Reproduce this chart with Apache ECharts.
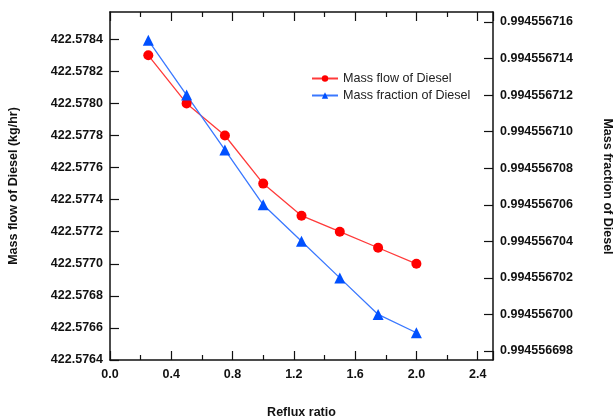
<!DOCTYPE html>
<html><head><meta charset="utf-8">
<script src="https://cdn.jsdelivr.net/npm/echarts@6/dist/echarts.min.js"></script>
<style>html,body{margin:0;padding:0;background:#fff}#c{width:616px;height:419px}</style>
</head><body><div id="c"></div>
<script>
const refluxRatio = [0.25, 0.5, 0.75, 1.0, 1.25, 1.5, 1.75, 2.0];
const massFlow = [422.5783, 422.5780, 422.5778, 422.5775, 422.5773, 422.5772, 422.5771, 422.5770];
const massFraction = [0.994556715, 0.994556712, 0.994556709, 0.994556706, 0.994556704, 0.994556702, 0.994556700, 0.994556699];
const seriesNames = ['Mass flow of Diesel', 'Mass fraction of Diesel'];

const font = 'Liberation Sans, Arial, sans-serif';
const chart = echarts.init(document.getElementById('c'), null, {renderer: 'canvas'});
const axisLineStyle = {color: '#111', width: 1.5};
const tickStyle = {color: '#111', width: 1.2};
const labelStyle = {fontFamily: font, fontWeight: 'bold', fontSize: 12.5, color: '#111'};
chart.setOption({
  animation: false,
  grid: [
    {left: 110, right: 123, top: 12, bottom: 59, containLabel: false, outerBoundsMode: 'none'},
    {left: 110, right: 123, top: 22, bottom: 68, containLabel: false, outerBoundsMode: 'none'}
  ],
  legend: {
    orient: 'vertical', left: 306, top: 67, itemGap: 4, itemWidth: 26, itemHeight: 8,
    textStyle: {fontFamily: font, fontSize: 12.6, color: '#222'},
    data: seriesNames
  },
  xAxis: [{
    gridIndex: 0, type: 'value', min: 0, max: 2.5, interval: 0.4,
    name: 'Reflux ratio', nameLocation: 'middle', nameGap: 46,
    nameTextStyle: Object.assign({}, labelStyle),
    axisLine: {show: true, onZero: false, lineStyle: axisLineStyle},
    axisTick: {show: true, inside: true, length: 9, lineStyle: tickStyle},
    minorTick: {show: true, splitNumber: 2, length: 5, lineStyle: tickStyle},
    axisLabel: Object.assign({}, labelStyle, {margin: 8, showMaxLabel: false, formatter: v => v.toFixed(1)}),
    splitLine: {show: false}
  }, {
    gridIndex: 0, type: 'value', position: 'top', min: 0, max: 2.5, interval: 0.4,
    axisLine: {show: true, onZero: false, lineStyle: axisLineStyle},
    axisTick: {show: true, inside: true, length: 9, lineStyle: tickStyle},
    minorTick: {show: true, splitNumber: 2, length: 5, lineStyle: tickStyle},
    axisLabel: {show: false}, splitLine: {show: false}
  }, {
    gridIndex: 1, type: 'value', min: 0, max: 2.5, show: false
  }],
  yAxis: [{
    gridIndex: 0, type: 'value', position: 'left', min: 422.5764, max: 422.57857, interval: 0.0002,
    name: 'Mass flow of Diesel (kg/hr)', nameLocation: 'middle', nameGap: 90, nameRotate: 90,
    nameTextStyle: Object.assign({}, labelStyle),
    axisLine: {show: true, onZero: false, lineStyle: axisLineStyle},
    axisTick: {show: true, inside: true, length: 9, lineStyle: tickStyle},
    axisLabel: Object.assign({}, labelStyle, {margin: 7, showMaxLabel: false, formatter: v => v.toFixed(4)}),
    splitLine: {show: false}
  }, {
    gridIndex: 0, type: 'value', position: 'right', min: 0, max: 1,
    axisLine: {show: true, onZero: false, lineStyle: axisLineStyle},
    axisTick: {show: false}, axisLabel: {show: false}, splitLine: {show: false}
  }, {
    gridIndex: 1, type: 'value', position: 'right', min: 0.994556698, max: 0.994556716, interval: 0.000000002,
    name: 'Mass fraction of Diesel', nameLocation: 'middle', nameGap: 108, nameRotate: -90,
    nameTextStyle: Object.assign({}, labelStyle),
    axisLine: {show: false, onZero: false},
    axisTick: {show: true, inside: true, length: 9, lineStyle: tickStyle},
    axisLabel: Object.assign({}, labelStyle, {margin: 7, formatter: v => v.toFixed(9)}),
    splitLine: {show: false}
  }],
  series: [{
    name: seriesNames[0], type: 'line', xAxisIndex: 0, yAxisIndex: 0,
    data: refluxRatio.map((x, i) => [x, massFlow[i]]),
    symbol: 'circle', symbolSize: 10,
    itemStyle: {color: '#ff0000'},
    lineStyle: {color: '#ff3a3a', width: 1.3}
  }, {
    name: seriesNames[1], type: 'line', xAxisIndex: 2, yAxisIndex: 2,
    data: refluxRatio.map((x, i) => [x, massFraction[i]]),
    symbol: 'triangle', symbolSize: 11,
    itemStyle: {color: '#0050ff'},
    lineStyle: {color: '#3a78ff', width: 1.3}
  }]
});
</script></body></html>
